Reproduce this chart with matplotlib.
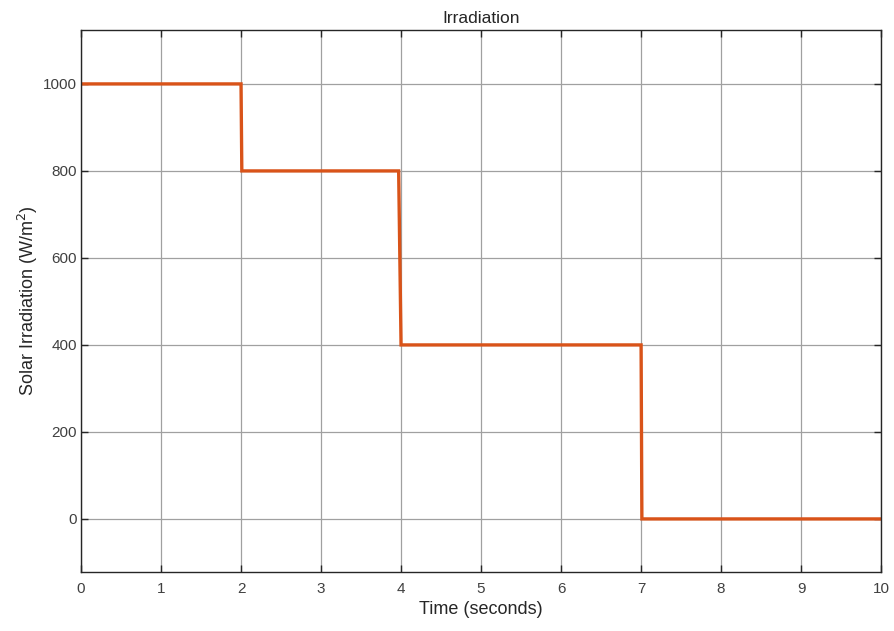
import matplotlib
matplotlib.use("Agg")
import matplotlib.pyplot as plt

# Irradiation profile (time in s, irradiance in W/m^2)
time = [0, 2.0, 2.01, 3.97, 4.0, 7.0, 7.01, 10]
irradiation = [1000, 1000, 800, 800, 400, 400, 0, 0]

xticks = list(range(0, 11))
yticks = [0, 200, 400, 600, 800, 1000]

plt.rcParams['font.family'] = ['Liberation Sans', 'DejaVu Sans']

fig = plt.figure(figsize=(8.95, 6.31), dpi=100)
ax = fig.add_axes([0.0905, 0.0935, 0.894, 0.859])

ax.plot(time, irradiation, color='#D95319', linewidth=2.4, solid_joinstyle='miter')

ax.set_xlim(0, 10)
ax.set_ylim(-122, 1124)
ax.set_xticks(xticks)
ax.set_yticks(yticks)
ax.grid(True, color='#a0a0a0', linewidth=0.9)
ax.set_axisbelow(True)

ax.tick_params(direction='in', length=5, width=1, colors='#262626',
               labelsize=11, labelcolor='#404040', top=True, right=True)
ax.tick_params(axis='x', pad=7)
ax.tick_params(axis='y', pad=3)
for spine in ax.spines.values():
    spine.set_color('#262626')
    spine.set_linewidth(1)

ax.set_xlabel('Time (seconds)', fontsize=13, color='#262626', labelpad=4)
ax.set_ylabel('Solar Irradiation (W/m$^2$)', fontsize=13, color='#262626', labelpad=2)
ax.set_title('Irradiation', fontsize=12.5, color='#262626', pad=5)

fig.savefig('out.png', dpi=100)
